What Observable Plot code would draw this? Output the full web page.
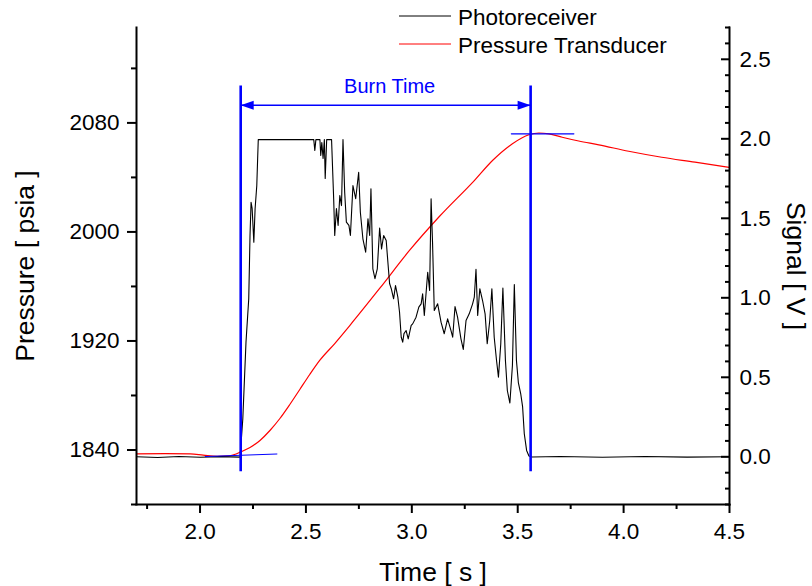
<!DOCTYPE html>
<html>
<head>
<meta charset="utf-8">
<script src="https://cdn.jsdelivr.net/npm/d3@7"></script>
<script src="https://cdn.jsdelivr.net/npm/@observablehq/plot@0.6"></script>
<style>
  html, body { margin: 0; padding: 0; background: #fff; }
  #chart { position: relative; width: 812px; height: 586px; }
  #legend { position: absolute; left: 0; top: 0; pointer-events: none; }
</style>
</head>
<body>
<div id="chart"></div>
<script>
// Photoreceiver output [V] over time [s]
const blackTime = [
  1.70, 1.80, 1.90, 2.00, 2.10, 2.189, 2.202, 2.217, 2.230, 2.236,
  2.241, 2.246, 2.254, 2.260, 2.268, 2.272, 2.275, 2.537, 2.542, 2.547,
  2.566, 2.570, 2.575, 2.581, 2.587, 2.591, 2.598, 2.621, 2.631, 2.636,
  2.644, 2.652, 2.660, 2.668, 2.675, 2.683, 2.691, 2.703, 2.710, 2.722,
  2.735, 2.749, 2.757, 2.769, 2.782, 2.793, 2.801, 2.807, 2.816, 2.826,
  2.837, 2.848, 2.857, 2.867, 2.879, 2.887, 2.895, 2.903, 2.914, 2.923,
  2.934, 2.942, 2.950, 2.957, 2.963, 2.973, 2.983, 2.997, 3.004, 3.020,
  3.033, 3.044, 3.051, 3.059, 3.075, 3.084, 3.091, 3.098, 3.106, 3.122,
  3.138, 3.153, 3.169, 3.185, 3.193, 3.204, 3.216, 3.232, 3.243, 3.256,
  3.271, 3.287, 3.295, 3.303, 3.311, 3.321, 3.334, 3.346, 3.356, 3.368,
  3.378, 3.389, 3.400, 3.409, 3.420, 3.430, 3.442, 3.451, 3.463, 3.475,
  3.484, 3.494, 3.503, 3.514, 3.523, 3.531, 3.542, 3.553, 3.567, 3.70,
  3.90, 4.10, 4.30, 4.50
];
const blackSignal = [
  0.000, -0.004, 0.002, -0.003, 0.001, -0.002, 0.239, 0.721, 0.994, 1.392,
  1.601, 1.562, 1.350, 1.560, 1.706, 1.874, 1.995, 1.995, 1.926, 1.995,
  1.995, 1.895, 1.977, 1.876, 1.995, 1.750, 1.995, 1.995, 1.623, 1.392,
  1.562, 1.455, 1.643, 1.580, 1.995, 1.664, 1.476, 1.455, 1.392, 1.706,
  1.623, 1.790, 1.538, 1.371, 1.287, 1.497, 1.392, 1.686, 1.182, 1.120,
  1.182, 1.439, 1.308, 1.392, 1.360, 1.224, 1.090, 1.057, 0.994, 1.077,
  1.004, 0.909, 0.752, 0.721, 0.775, 0.794, 0.742, 0.826, 0.836, 0.878,
  0.941, 0.962, 1.025, 0.889, 1.161, 1.046, 1.623, 1.340, 0.920, 0.962,
  0.847, 0.774, 0.868, 0.794, 0.752, 0.945, 0.878, 0.742, 0.675, 0.857,
  0.899, 0.962, 1.004, 1.179, 0.889, 1.057, 0.983, 0.899, 0.711, 0.857,
  1.057, 0.752, 0.606, 0.501, 0.711, 1.062, 0.606, 0.417, 0.338, 0.574,
  1.084, 0.606, 0.467, 0.398, 0.316, 0.145, 0.040, 0.005, -0.001, 0.002,
  -0.003, 0.002, -0.002, 0.000
];

// Pressure transducer reading [psia] over time [s]
const redTime = [
  1.700, 1.836, 1.954, 2.015, 2.081, 2.137, 2.170, 2.189, 2.236, 2.283,
  2.330, 2.377, 2.424, 2.471, 2.518, 2.565, 2.636, 2.707, 2.848, 2.989,
  3.130, 3.295, 3.381, 3.475, 3.553, 3.600, 3.647, 3.710, 3.788, 3.883,
  4.024, 4.180, 4.337, 4.500
];
const redPressure = [
  1837.2, 1837.4, 1837.2, 1836.3, 1835.4, 1835.7, 1837.1, 1838.4, 1841.8, 1847.0,
  1854.3, 1863.1, 1873.4, 1884.4, 1895.4, 1905.7, 1918.1, 1931.3, 1958.5, 1986.4,
  2011.3, 2037.7, 2052.4, 2064.7, 2071.3, 2072.6, 2072.0, 2069.5, 2066.7, 2063.9,
  2059.2, 2054.8, 2051.2, 2047.3
];

// Burn-time markers
const burnStart = 2.192;
const burnEnd = 3.561;
const markerSpan = [1824, 2107];   // psia extent of the vertical markers
const arrowLevel = 2093;           // psia level of the double arrow
const baseTangentTime = [2.025, 2.363];
const baseTangentPressure = [1835.2, 1837.05];
const peakTangentTime = [3.470, 3.765];
const peakTangentPressure = [2072.0, 2072.0];

// Axes
const timeDomain = [1.7, 4.5];
const timeTicks = [2.0, 2.5, 3.0, 3.5, 4.0, 4.5];
const timeMinor = [1.75, 2.25, 2.75, 3.25, 3.75, 4.25];
const pressureDomain = [1800, 2150];
const pressureTicks = [1840, 1920, 2000, 2080];
const pressureMinor = [1800, 1880, 1960, 2040, 2120];
const signalDomain = [-0.3, 2.7];
const signalTicks = [0.0, 0.5, 1.0, 1.5, 2.0, 2.5];
const signalMinor = [-0.3, -0.2, -0.1, 0.1, 0.2, 0.3, 0.4, 0.6, 0.7, 0.8, 0.9,
  1.1, 1.2, 1.3, 1.4, 1.6, 1.7, 1.8, 1.9, 2.1, 2.2, 2.3, 2.4, 2.6, 2.7];

const seriesNames = ["Photoreceiver", "Pressure Transducer"];
const seriesColors = ["#000000", "#ff0000"];
const blue = "#0000ff";
const fontFamily = 'Arial, "Liberation Sans", Helvetica, sans-serif';
const tickFont = 22.5;
const titleFont = 26.5;

// Signal axis (right) shares the vertical extent of the pressure axis (left)
const toP = d3.scaleLinear().domain(signalDomain).range(pressureDomain);

const photo = blackTime.map((t, i) => ({t, v: blackSignal[i]}));
const pressure = redTime.map((t, i) => ({t, p: redPressure[i]}));
const baseTangent = baseTangentTime.map((t, i) => ({t, p: baseTangentPressure[i]}));
const peakTangent = peakTangentTime.map((t, i) => ({t, p: peakTangentPressure[i]}));

// Filled arrowhead, tip at the anchor point, pointing left
const arrowHead = {
  draw(ctx) {
    ctx.moveTo(0, 0);
    ctx.lineTo(13, -4.5);
    ctx.lineTo(13, 4.5);
    ctx.closePath();
  }
};

const chart = Plot.plot({
  width: 812,
  height: 586,
  marginLeft: 136,
  marginRight: 83,
  marginTop: 27,
  marginBottom: 82,
  style: {fontFamily, color: "#000", background: "#fff", overflow: "visible"},
  x: {domain: timeDomain},
  y: {domain: pressureDomain},
  marks: [
    // data
    Plot.line(pressure, {x: "t", y: "p", stroke: seriesColors[1], strokeWidth: 1.2, curve: "monotone-x"}),
    Plot.line(photo, {x: "t", y: (d) => toP(d.v), stroke: seriesColors[0], strokeWidth: 1.1}),

    // burn-time annotation
    Plot.line(baseTangent, {x: "t", y: "p", stroke: blue, strokeWidth: 1}),
    Plot.line(peakTangent, {x: "t", y: "p", stroke: blue, strokeWidth: 1.2}),
    Plot.ruleX([burnStart, burnEnd], {y1: markerSpan[0], y2: markerSpan[1], stroke: blue, strokeWidth: 2.6}),
    Plot.ruleY([arrowLevel], {x1: burnStart, x2: burnEnd, stroke: blue, strokeWidth: 1.5}),
    Plot.dot([{t: burnStart, a: 0}, {t: burnEnd, a: 180}], {
      x: "t", y: () => arrowLevel, symbol: arrowHead, rotate: "a", fill: blue, stroke: "none"
    }),
    Plot.text(["Burn Time"], {
      x: () => (burnStart + burnEnd) / 2, y: () => arrowLevel,
      dx: 4, dy: -19, fill: blue, fontSize: 20
    }),

    // axis lines
    Plot.frame({anchor: "left", strokeWidth: 2}),
    Plot.frame({anchor: "bottom", strokeWidth: 2}),
    Plot.frame({anchor: "right", strokeWidth: 2}),

    // bottom axis
    Plot.axisX(timeTicks, {anchor: "bottom", tickSize: 9, tickPadding: 10, fontSize: tickFont, strokeWidth: 2,
      tickFormat: d3.format(".1f"), label: null}),
    Plot.axisX(timeMinor, {anchor: "bottom", tickSize: 5, strokeWidth: 2, fill: "none", label: null}),

    // left axis (pressure)
    Plot.axisY(pressureTicks, {anchor: "left", tickSize: 9, tickPadding: 8, fontSize: tickFont, strokeWidth: 2,
      tickFormat: d3.format("d"), label: null}),
    Plot.axisY(pressureMinor, {anchor: "left", tickSize: 5, strokeWidth: 2, fill: "none", label: null}),

    // right axis (signal), ticks pointing inward
    Plot.axisY(signalTicks.map(toP), {anchor: "right", tickSize: -9, strokeWidth: 2, fill: "none", label: null}),
    Plot.axisY(signalMinor.map(toP), {anchor: "right", tickSize: -5, strokeWidth: 2, fill: "none", label: null}),
    Plot.axisY(signalTicks.map(toP), {anchor: "right", tickSize: 0, tickPadding: 10, fontSize: tickFont,
      tickFormat: (p) => d3.format(".1f")(toP.invert(p)), label: null}),

    // axis titles
    Plot.text(["Time [ s ]"], {frameAnchor: "bottom", dy: 68, lineAnchor: "middle", textAnchor: "middle", fontSize: titleFont}),
    Plot.text(["Pressure [ psia ]"], {frameAnchor: "left", dx: -111, rotate: -90, lineAnchor: "middle", textAnchor: "middle", fontSize: titleFont}),
    Plot.text(["Signal [ V ]"], {frameAnchor: "right", dx: 66, rotate: 90, lineAnchor: "middle", textAnchor: "middle", fontSize: titleFont})
  ]
});

const container = document.getElementById("chart");
container.appendChild(chart);

// Series key in the upper part of the panel
const legend = d3.select(container).append("svg")
  .attr("id", "legend")
  .attr("width", 812)
  .attr("height", 60)
  .style("font-family", fontFamily);
const rows = legend.selectAll("g").data(seriesNames).join("g")
  .attr("transform", (d, i) => `translate(0, ${16 + i * 28})`);
rows.append("line")
  .attr("x1", 399).attr("x2", 451)
  .attr("stroke", (d, i) => seriesColors[i])
  .attr("stroke-width", 1);
rows.append("text")
  .attr("x", 458).attr("y", 8.5)
  .attr("font-size", 22.5)
  .attr("fill", "#000")
  .text((d) => d);
</script>
</body>
</html>
